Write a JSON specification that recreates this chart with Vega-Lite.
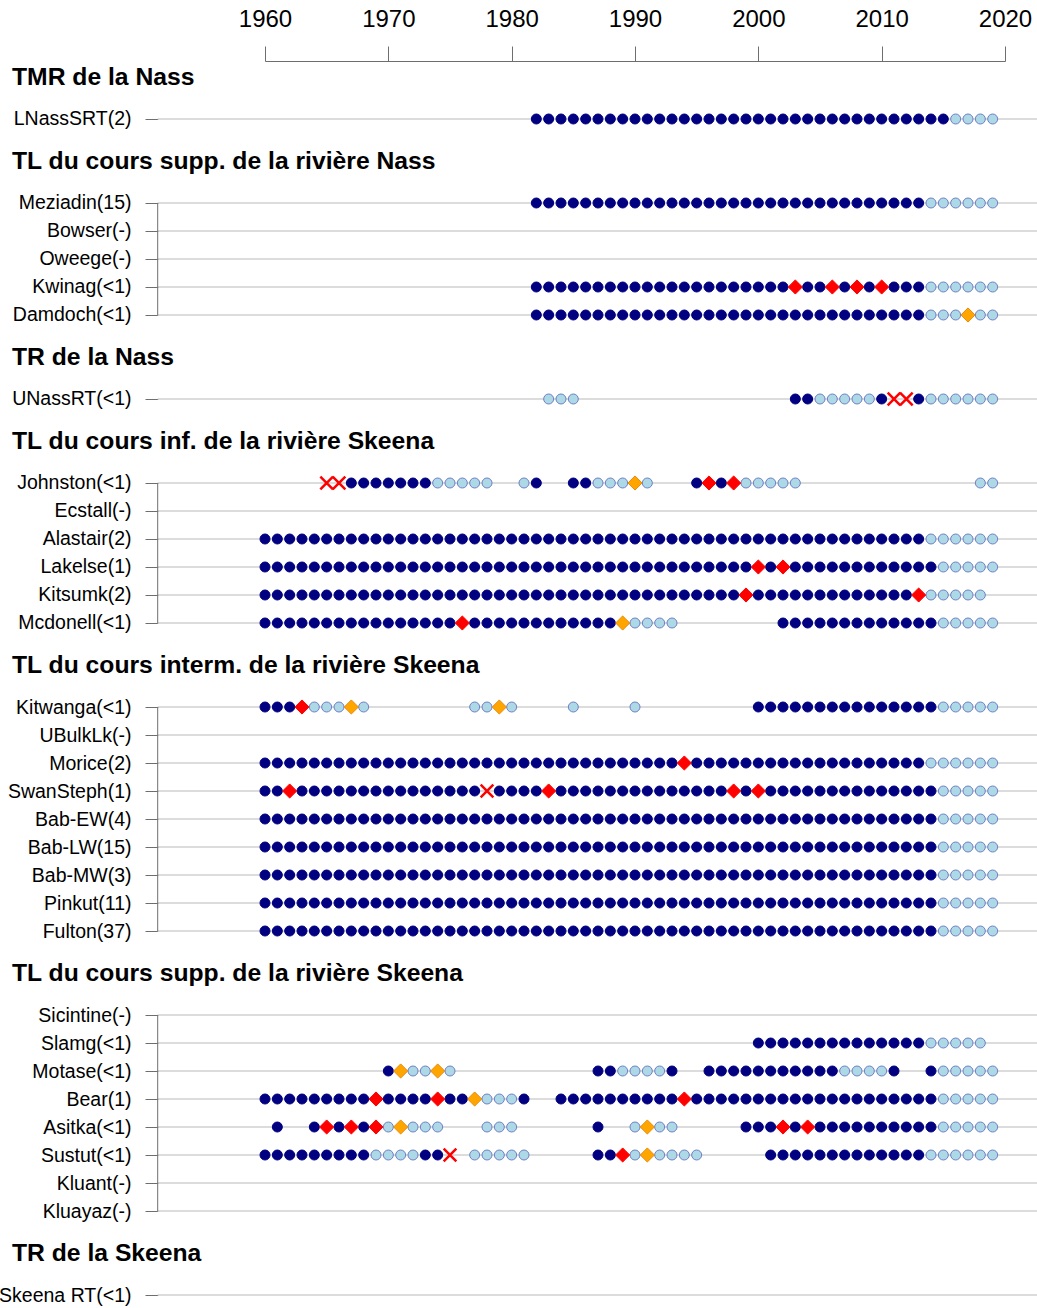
{
"$schema":"https://vega.github.io/schema/vega-lite/v6.json",
"width":740,"height":1236,
"autosize":"none",
"padding":{"left":265,"top":61,"right":32,"bottom":11},
"config":{"view":{"stroke":null},"font":"Liberation Sans"},
"datasets":{
"rows":[{"r":"LNassSRT(2)"},{"r":"Meziadin(15)"},{"r":"Bowser(-)"},{"r":"Oweege(-)"},{"r":"Kwinag(<1)"},{"r":"Damdoch(<1)"},{"r":"UNassRT(<1)"},{"r":"Johnston(<1)"},{"r":"Ecstall(-)"},{"r":"Alastair(2)"},{"r":"Lakelse(1)"},{"r":"Kitsumk(2)"},{"r":"Mcdonell(<1)"},{"r":"Kitwanga(<1)"},{"r":"UBulkLk(-)"},{"r":"Morice(2)"},{"r":"SwanSteph(1)"},{"r":"Bab-EW(4)"},{"r":"Bab-LW(15)"},{"r":"Bab-MW(3)"},{"r":"Pinkut(11)"},{"r":"Fulton(37)"},{"r":"Sicintine(-)"},{"r":"Slamg(<1)"},{"r":"Motase(<1)"},{"r":"Bear(1)"},{"r":"Asitka(<1)"},{"r":"Sustut(<1)"},{"r":"Kluant(-)"},{"r":"Kluayaz(-)"},{"r":"Skeena RT(<1)"}],
"groups":[{"r":"Meziadin(15)","r2":"Damdoch(<1)"},{"r":"Johnston(<1)","r2":"Mcdonell(<1)"},{"r":"Kitwanga(<1)","r2":"Fulton(37)"},{"r":"Sicintine(-)","r2":"Kluayaz(-)"}],
"heads":[{"r":"_a","t":"TMR de la Nass"},{"r":"_c","t":"TL du cours supp. de la rivière Nass"},{"r":"_e","t":"TR de la Nass"},{"r":"_g","t":"TL du cours inf. de la rivière Skeena"},{"r":"_i","t":"TL du cours interm. de la rivière Skeena"},{"r":"_k","t":"TL du cours supp. de la rivière Skeena"},{"r":"_m","t":"TR de la Skeena"}],
"pts":[
{"r":"LNassSRT(2)","y":1982,"s":"d"},{"r":"LNassSRT(2)","y":1983,"s":"d"},{"r":"LNassSRT(2)","y":1984,"s":"d"},{"r":"LNassSRT(2)","y":1985,"s":"d"},{"r":"LNassSRT(2)","y":1986,"s":"d"},{"r":"LNassSRT(2)","y":1987,"s":"d"},{"r":"LNassSRT(2)","y":1988,"s":"d"},{"r":"LNassSRT(2)","y":1989,"s":"d"},{"r":"LNassSRT(2)","y":1990,"s":"d"},{"r":"LNassSRT(2)","y":1991,"s":"d"},{"r":"LNassSRT(2)","y":1992,"s":"d"},{"r":"LNassSRT(2)","y":1993,"s":"d"},{"r":"LNassSRT(2)","y":1994,"s":"d"},{"r":"LNassSRT(2)","y":1995,"s":"d"},{"r":"LNassSRT(2)","y":1996,"s":"d"},{"r":"LNassSRT(2)","y":1997,"s":"d"},{"r":"LNassSRT(2)","y":1998,"s":"d"},{"r":"LNassSRT(2)","y":1999,"s":"d"},{"r":"LNassSRT(2)","y":2000,"s":"d"},{"r":"LNassSRT(2)","y":2001,"s":"d"},{"r":"LNassSRT(2)","y":2002,"s":"d"},{"r":"LNassSRT(2)","y":2003,"s":"d"},{"r":"LNassSRT(2)","y":2004,"s":"d"},{"r":"LNassSRT(2)","y":2005,"s":"d"},{"r":"LNassSRT(2)","y":2006,"s":"d"},{"r":"LNassSRT(2)","y":2007,"s":"d"},{"r":"LNassSRT(2)","y":2008,"s":"d"},{"r":"LNassSRT(2)","y":2009,"s":"d"},{"r":"LNassSRT(2)","y":2010,"s":"d"},{"r":"LNassSRT(2)","y":2011,"s":"d"},{"r":"LNassSRT(2)","y":2012,"s":"d"},{"r":"LNassSRT(2)","y":2013,"s":"d"},{"r":"LNassSRT(2)","y":2014,"s":"d"},{"r":"LNassSRT(2)","y":2015,"s":"d"},{"r":"LNassSRT(2)","y":2016,"s":"l"},{"r":"LNassSRT(2)","y":2017,"s":"l"},{"r":"LNassSRT(2)","y":2018,"s":"l"},{"r":"LNassSRT(2)","y":2019,"s":"l"},
{"r":"Meziadin(15)","y":1982,"s":"d"},{"r":"Meziadin(15)","y":1983,"s":"d"},{"r":"Meziadin(15)","y":1984,"s":"d"},{"r":"Meziadin(15)","y":1985,"s":"d"},{"r":"Meziadin(15)","y":1986,"s":"d"},{"r":"Meziadin(15)","y":1987,"s":"d"},{"r":"Meziadin(15)","y":1988,"s":"d"},{"r":"Meziadin(15)","y":1989,"s":"d"},{"r":"Meziadin(15)","y":1990,"s":"d"},{"r":"Meziadin(15)","y":1991,"s":"d"},{"r":"Meziadin(15)","y":1992,"s":"d"},{"r":"Meziadin(15)","y":1993,"s":"d"},{"r":"Meziadin(15)","y":1994,"s":"d"},{"r":"Meziadin(15)","y":1995,"s":"d"},{"r":"Meziadin(15)","y":1996,"s":"d"},{"r":"Meziadin(15)","y":1997,"s":"d"},{"r":"Meziadin(15)","y":1998,"s":"d"},{"r":"Meziadin(15)","y":1999,"s":"d"},{"r":"Meziadin(15)","y":2000,"s":"d"},{"r":"Meziadin(15)","y":2001,"s":"d"},{"r":"Meziadin(15)","y":2002,"s":"d"},{"r":"Meziadin(15)","y":2003,"s":"d"},{"r":"Meziadin(15)","y":2004,"s":"d"},{"r":"Meziadin(15)","y":2005,"s":"d"},{"r":"Meziadin(15)","y":2006,"s":"d"},{"r":"Meziadin(15)","y":2007,"s":"d"},{"r":"Meziadin(15)","y":2008,"s":"d"},{"r":"Meziadin(15)","y":2009,"s":"d"},{"r":"Meziadin(15)","y":2010,"s":"d"},{"r":"Meziadin(15)","y":2011,"s":"d"},{"r":"Meziadin(15)","y":2012,"s":"d"},{"r":"Meziadin(15)","y":2013,"s":"d"},{"r":"Meziadin(15)","y":2014,"s":"l"},{"r":"Meziadin(15)","y":2015,"s":"l"},{"r":"Meziadin(15)","y":2016,"s":"l"},{"r":"Meziadin(15)","y":2017,"s":"l"},{"r":"Meziadin(15)","y":2018,"s":"l"},{"r":"Meziadin(15)","y":2019,"s":"l"},
{"r":"Kwinag(<1)","y":1982,"s":"d"},{"r":"Kwinag(<1)","y":1983,"s":"d"},{"r":"Kwinag(<1)","y":1984,"s":"d"},{"r":"Kwinag(<1)","y":1985,"s":"d"},{"r":"Kwinag(<1)","y":1986,"s":"d"},{"r":"Kwinag(<1)","y":1987,"s":"d"},{"r":"Kwinag(<1)","y":1988,"s":"d"},{"r":"Kwinag(<1)","y":1989,"s":"d"},{"r":"Kwinag(<1)","y":1990,"s":"d"},{"r":"Kwinag(<1)","y":1991,"s":"d"},{"r":"Kwinag(<1)","y":1992,"s":"d"},{"r":"Kwinag(<1)","y":1993,"s":"d"},{"r":"Kwinag(<1)","y":1994,"s":"d"},{"r":"Kwinag(<1)","y":1995,"s":"d"},{"r":"Kwinag(<1)","y":1996,"s":"d"},{"r":"Kwinag(<1)","y":1997,"s":"d"},{"r":"Kwinag(<1)","y":1998,"s":"d"},{"r":"Kwinag(<1)","y":1999,"s":"d"},{"r":"Kwinag(<1)","y":2000,"s":"d"},{"r":"Kwinag(<1)","y":2001,"s":"d"},{"r":"Kwinag(<1)","y":2002,"s":"d"},{"r":"Kwinag(<1)","y":2003,"s":"r"},{"r":"Kwinag(<1)","y":2004,"s":"d"},{"r":"Kwinag(<1)","y":2005,"s":"d"},{"r":"Kwinag(<1)","y":2006,"s":"r"},{"r":"Kwinag(<1)","y":2007,"s":"d"},{"r":"Kwinag(<1)","y":2008,"s":"r"},{"r":"Kwinag(<1)","y":2009,"s":"d"},{"r":"Kwinag(<1)","y":2010,"s":"r"},{"r":"Kwinag(<1)","y":2011,"s":"d"},{"r":"Kwinag(<1)","y":2012,"s":"d"},{"r":"Kwinag(<1)","y":2013,"s":"d"},{"r":"Kwinag(<1)","y":2014,"s":"l"},{"r":"Kwinag(<1)","y":2015,"s":"l"},{"r":"Kwinag(<1)","y":2016,"s":"l"},{"r":"Kwinag(<1)","y":2017,"s":"l"},{"r":"Kwinag(<1)","y":2018,"s":"l"},{"r":"Kwinag(<1)","y":2019,"s":"l"},
{"r":"Damdoch(<1)","y":1982,"s":"d"},{"r":"Damdoch(<1)","y":1983,"s":"d"},{"r":"Damdoch(<1)","y":1984,"s":"d"},{"r":"Damdoch(<1)","y":1985,"s":"d"},{"r":"Damdoch(<1)","y":1986,"s":"d"},{"r":"Damdoch(<1)","y":1987,"s":"d"},{"r":"Damdoch(<1)","y":1988,"s":"d"},{"r":"Damdoch(<1)","y":1989,"s":"d"},{"r":"Damdoch(<1)","y":1990,"s":"d"},{"r":"Damdoch(<1)","y":1991,"s":"d"},{"r":"Damdoch(<1)","y":1992,"s":"d"},{"r":"Damdoch(<1)","y":1993,"s":"d"},{"r":"Damdoch(<1)","y":1994,"s":"d"},{"r":"Damdoch(<1)","y":1995,"s":"d"},{"r":"Damdoch(<1)","y":1996,"s":"d"},{"r":"Damdoch(<1)","y":1997,"s":"d"},{"r":"Damdoch(<1)","y":1998,"s":"d"},{"r":"Damdoch(<1)","y":1999,"s":"d"},{"r":"Damdoch(<1)","y":2000,"s":"d"},{"r":"Damdoch(<1)","y":2001,"s":"d"},{"r":"Damdoch(<1)","y":2002,"s":"d"},{"r":"Damdoch(<1)","y":2003,"s":"d"},{"r":"Damdoch(<1)","y":2004,"s":"d"},{"r":"Damdoch(<1)","y":2005,"s":"d"},{"r":"Damdoch(<1)","y":2006,"s":"d"},{"r":"Damdoch(<1)","y":2007,"s":"d"},{"r":"Damdoch(<1)","y":2008,"s":"d"},{"r":"Damdoch(<1)","y":2009,"s":"d"},{"r":"Damdoch(<1)","y":2010,"s":"d"},{"r":"Damdoch(<1)","y":2011,"s":"d"},{"r":"Damdoch(<1)","y":2012,"s":"d"},{"r":"Damdoch(<1)","y":2013,"s":"d"},{"r":"Damdoch(<1)","y":2014,"s":"l"},{"r":"Damdoch(<1)","y":2015,"s":"l"},{"r":"Damdoch(<1)","y":2016,"s":"l"},{"r":"Damdoch(<1)","y":2017,"s":"o"},{"r":"Damdoch(<1)","y":2018,"s":"l"},{"r":"Damdoch(<1)","y":2019,"s":"l"},
{"r":"UNassRT(<1)","y":1983,"s":"l"},{"r":"UNassRT(<1)","y":1984,"s":"l"},{"r":"UNassRT(<1)","y":1985,"s":"l"},{"r":"UNassRT(<1)","y":2003,"s":"d"},{"r":"UNassRT(<1)","y":2004,"s":"d"},{"r":"UNassRT(<1)","y":2005,"s":"l"},{"r":"UNassRT(<1)","y":2006,"s":"l"},{"r":"UNassRT(<1)","y":2007,"s":"l"},{"r":"UNassRT(<1)","y":2008,"s":"l"},{"r":"UNassRT(<1)","y":2009,"s":"l"},{"r":"UNassRT(<1)","y":2010,"s":"d"},{"r":"UNassRT(<1)","y":2011,"s":"x"},{"r":"UNassRT(<1)","y":2012,"s":"x"},{"r":"UNassRT(<1)","y":2013,"s":"d"},{"r":"UNassRT(<1)","y":2014,"s":"l"},{"r":"UNassRT(<1)","y":2015,"s":"l"},{"r":"UNassRT(<1)","y":2016,"s":"l"},{"r":"UNassRT(<1)","y":2017,"s":"l"},{"r":"UNassRT(<1)","y":2018,"s":"l"},{"r":"UNassRT(<1)","y":2019,"s":"l"},
{"r":"Johnston(<1)","y":1965,"s":"x"},{"r":"Johnston(<1)","y":1966,"s":"x"},{"r":"Johnston(<1)","y":1967,"s":"d"},{"r":"Johnston(<1)","y":1968,"s":"d"},{"r":"Johnston(<1)","y":1969,"s":"d"},{"r":"Johnston(<1)","y":1970,"s":"d"},{"r":"Johnston(<1)","y":1971,"s":"d"},{"r":"Johnston(<1)","y":1972,"s":"d"},{"r":"Johnston(<1)","y":1973,"s":"d"},{"r":"Johnston(<1)","y":1974,"s":"l"},{"r":"Johnston(<1)","y":1975,"s":"l"},{"r":"Johnston(<1)","y":1976,"s":"l"},{"r":"Johnston(<1)","y":1977,"s":"l"},{"r":"Johnston(<1)","y":1978,"s":"l"},{"r":"Johnston(<1)","y":1981,"s":"l"},{"r":"Johnston(<1)","y":1982,"s":"d"},{"r":"Johnston(<1)","y":1985,"s":"d"},{"r":"Johnston(<1)","y":1986,"s":"d"},{"r":"Johnston(<1)","y":1987,"s":"l"},{"r":"Johnston(<1)","y":1988,"s":"l"},{"r":"Johnston(<1)","y":1989,"s":"l"},{"r":"Johnston(<1)","y":1990,"s":"o"},{"r":"Johnston(<1)","y":1991,"s":"l"},{"r":"Johnston(<1)","y":1995,"s":"d"},{"r":"Johnston(<1)","y":1996,"s":"r"},{"r":"Johnston(<1)","y":1997,"s":"d"},{"r":"Johnston(<1)","y":1998,"s":"r"},{"r":"Johnston(<1)","y":1999,"s":"l"},{"r":"Johnston(<1)","y":2000,"s":"l"},{"r":"Johnston(<1)","y":2001,"s":"l"},{"r":"Johnston(<1)","y":2002,"s":"l"},{"r":"Johnston(<1)","y":2003,"s":"l"},{"r":"Johnston(<1)","y":2018,"s":"l"},{"r":"Johnston(<1)","y":2019,"s":"l"},
{"r":"Alastair(2)","y":1960,"s":"d"},{"r":"Alastair(2)","y":1961,"s":"d"},{"r":"Alastair(2)","y":1962,"s":"d"},{"r":"Alastair(2)","y":1963,"s":"d"},{"r":"Alastair(2)","y":1964,"s":"d"},{"r":"Alastair(2)","y":1965,"s":"d"},{"r":"Alastair(2)","y":1966,"s":"d"},{"r":"Alastair(2)","y":1967,"s":"d"},{"r":"Alastair(2)","y":1968,"s":"d"},{"r":"Alastair(2)","y":1969,"s":"d"},{"r":"Alastair(2)","y":1970,"s":"d"},{"r":"Alastair(2)","y":1971,"s":"d"},{"r":"Alastair(2)","y":1972,"s":"d"},{"r":"Alastair(2)","y":1973,"s":"d"},{"r":"Alastair(2)","y":1974,"s":"d"},{"r":"Alastair(2)","y":1975,"s":"d"},{"r":"Alastair(2)","y":1976,"s":"d"},{"r":"Alastair(2)","y":1977,"s":"d"},{"r":"Alastair(2)","y":1978,"s":"d"},{"r":"Alastair(2)","y":1979,"s":"d"},{"r":"Alastair(2)","y":1980,"s":"d"},{"r":"Alastair(2)","y":1981,"s":"d"},{"r":"Alastair(2)","y":1982,"s":"d"},{"r":"Alastair(2)","y":1983,"s":"d"},{"r":"Alastair(2)","y":1984,"s":"d"},{"r":"Alastair(2)","y":1985,"s":"d"},{"r":"Alastair(2)","y":1986,"s":"d"},{"r":"Alastair(2)","y":1987,"s":"d"},{"r":"Alastair(2)","y":1988,"s":"d"},{"r":"Alastair(2)","y":1989,"s":"d"},{"r":"Alastair(2)","y":1990,"s":"d"},{"r":"Alastair(2)","y":1991,"s":"d"},{"r":"Alastair(2)","y":1992,"s":"d"},{"r":"Alastair(2)","y":1993,"s":"d"},{"r":"Alastair(2)","y":1994,"s":"d"},{"r":"Alastair(2)","y":1995,"s":"d"},{"r":"Alastair(2)","y":1996,"s":"d"},{"r":"Alastair(2)","y":1997,"s":"d"},{"r":"Alastair(2)","y":1998,"s":"d"},{"r":"Alastair(2)","y":1999,"s":"d"},{"r":"Alastair(2)","y":2000,"s":"d"},{"r":"Alastair(2)","y":2001,"s":"d"},{"r":"Alastair(2)","y":2002,"s":"d"},{"r":"Alastair(2)","y":2003,"s":"d"},{"r":"Alastair(2)","y":2004,"s":"d"},{"r":"Alastair(2)","y":2005,"s":"d"},{"r":"Alastair(2)","y":2006,"s":"d"},{"r":"Alastair(2)","y":2007,"s":"d"},{"r":"Alastair(2)","y":2008,"s":"d"},{"r":"Alastair(2)","y":2009,"s":"d"},{"r":"Alastair(2)","y":2010,"s":"d"},{"r":"Alastair(2)","y":2011,"s":"d"},{"r":"Alastair(2)","y":2012,"s":"d"},{"r":"Alastair(2)","y":2013,"s":"d"},{"r":"Alastair(2)","y":2014,"s":"l"},{"r":"Alastair(2)","y":2015,"s":"l"},{"r":"Alastair(2)","y":2016,"s":"l"},{"r":"Alastair(2)","y":2017,"s":"l"},{"r":"Alastair(2)","y":2018,"s":"l"},{"r":"Alastair(2)","y":2019,"s":"l"},
{"r":"Lakelse(1)","y":1960,"s":"d"},{"r":"Lakelse(1)","y":1961,"s":"d"},{"r":"Lakelse(1)","y":1962,"s":"d"},{"r":"Lakelse(1)","y":1963,"s":"d"},{"r":"Lakelse(1)","y":1964,"s":"d"},{"r":"Lakelse(1)","y":1965,"s":"d"},{"r":"Lakelse(1)","y":1966,"s":"d"},{"r":"Lakelse(1)","y":1967,"s":"d"},{"r":"Lakelse(1)","y":1968,"s":"d"},{"r":"Lakelse(1)","y":1969,"s":"d"},{"r":"Lakelse(1)","y":1970,"s":"d"},{"r":"Lakelse(1)","y":1971,"s":"d"},{"r":"Lakelse(1)","y":1972,"s":"d"},{"r":"Lakelse(1)","y":1973,"s":"d"},{"r":"Lakelse(1)","y":1974,"s":"d"},{"r":"Lakelse(1)","y":1975,"s":"d"},{"r":"Lakelse(1)","y":1976,"s":"d"},{"r":"Lakelse(1)","y":1977,"s":"d"},{"r":"Lakelse(1)","y":1978,"s":"d"},{"r":"Lakelse(1)","y":1979,"s":"d"},{"r":"Lakelse(1)","y":1980,"s":"d"},{"r":"Lakelse(1)","y":1981,"s":"d"},{"r":"Lakelse(1)","y":1982,"s":"d"},{"r":"Lakelse(1)","y":1983,"s":"d"},{"r":"Lakelse(1)","y":1984,"s":"d"},{"r":"Lakelse(1)","y":1985,"s":"d"},{"r":"Lakelse(1)","y":1986,"s":"d"},{"r":"Lakelse(1)","y":1987,"s":"d"},{"r":"Lakelse(1)","y":1988,"s":"d"},{"r":"Lakelse(1)","y":1989,"s":"d"},{"r":"Lakelse(1)","y":1990,"s":"d"},{"r":"Lakelse(1)","y":1991,"s":"d"},{"r":"Lakelse(1)","y":1992,"s":"d"},{"r":"Lakelse(1)","y":1993,"s":"d"},{"r":"Lakelse(1)","y":1994,"s":"d"},{"r":"Lakelse(1)","y":1995,"s":"d"},{"r":"Lakelse(1)","y":1996,"s":"d"},{"r":"Lakelse(1)","y":1997,"s":"d"},{"r":"Lakelse(1)","y":1998,"s":"d"},{"r":"Lakelse(1)","y":1999,"s":"d"},{"r":"Lakelse(1)","y":2000,"s":"r"},{"r":"Lakelse(1)","y":2001,"s":"d"},{"r":"Lakelse(1)","y":2002,"s":"r"},{"r":"Lakelse(1)","y":2003,"s":"d"},{"r":"Lakelse(1)","y":2004,"s":"d"},{"r":"Lakelse(1)","y":2005,"s":"d"},{"r":"Lakelse(1)","y":2006,"s":"d"},{"r":"Lakelse(1)","y":2007,"s":"d"},{"r":"Lakelse(1)","y":2008,"s":"d"},{"r":"Lakelse(1)","y":2009,"s":"d"},{"r":"Lakelse(1)","y":2010,"s":"d"},{"r":"Lakelse(1)","y":2011,"s":"d"},{"r":"Lakelse(1)","y":2012,"s":"d"},{"r":"Lakelse(1)","y":2013,"s":"d"},{"r":"Lakelse(1)","y":2014,"s":"d"},{"r":"Lakelse(1)","y":2015,"s":"l"},{"r":"Lakelse(1)","y":2016,"s":"l"},{"r":"Lakelse(1)","y":2017,"s":"l"},{"r":"Lakelse(1)","y":2018,"s":"l"},{"r":"Lakelse(1)","y":2019,"s":"l"},
{"r":"Kitsumk(2)","y":1960,"s":"d"},{"r":"Kitsumk(2)","y":1961,"s":"d"},{"r":"Kitsumk(2)","y":1962,"s":"d"},{"r":"Kitsumk(2)","y":1963,"s":"d"},{"r":"Kitsumk(2)","y":1964,"s":"d"},{"r":"Kitsumk(2)","y":1965,"s":"d"},{"r":"Kitsumk(2)","y":1966,"s":"d"},{"r":"Kitsumk(2)","y":1967,"s":"d"},{"r":"Kitsumk(2)","y":1968,"s":"d"},{"r":"Kitsumk(2)","y":1969,"s":"d"},{"r":"Kitsumk(2)","y":1970,"s":"d"},{"r":"Kitsumk(2)","y":1971,"s":"d"},{"r":"Kitsumk(2)","y":1972,"s":"d"},{"r":"Kitsumk(2)","y":1973,"s":"d"},{"r":"Kitsumk(2)","y":1974,"s":"d"},{"r":"Kitsumk(2)","y":1975,"s":"d"},{"r":"Kitsumk(2)","y":1976,"s":"d"},{"r":"Kitsumk(2)","y":1977,"s":"d"},{"r":"Kitsumk(2)","y":1978,"s":"d"},{"r":"Kitsumk(2)","y":1979,"s":"d"},{"r":"Kitsumk(2)","y":1980,"s":"d"},{"r":"Kitsumk(2)","y":1981,"s":"d"},{"r":"Kitsumk(2)","y":1982,"s":"d"},{"r":"Kitsumk(2)","y":1983,"s":"d"},{"r":"Kitsumk(2)","y":1984,"s":"d"},{"r":"Kitsumk(2)","y":1985,"s":"d"},{"r":"Kitsumk(2)","y":1986,"s":"d"},{"r":"Kitsumk(2)","y":1987,"s":"d"},{"r":"Kitsumk(2)","y":1988,"s":"d"},{"r":"Kitsumk(2)","y":1989,"s":"d"},{"r":"Kitsumk(2)","y":1990,"s":"d"},{"r":"Kitsumk(2)","y":1991,"s":"d"},{"r":"Kitsumk(2)","y":1992,"s":"d"},{"r":"Kitsumk(2)","y":1993,"s":"d"},{"r":"Kitsumk(2)","y":1994,"s":"d"},{"r":"Kitsumk(2)","y":1995,"s":"d"},{"r":"Kitsumk(2)","y":1996,"s":"d"},{"r":"Kitsumk(2)","y":1997,"s":"d"},{"r":"Kitsumk(2)","y":1998,"s":"d"},{"r":"Kitsumk(2)","y":1999,"s":"r"},{"r":"Kitsumk(2)","y":2000,"s":"d"},{"r":"Kitsumk(2)","y":2001,"s":"d"},{"r":"Kitsumk(2)","y":2002,"s":"d"},{"r":"Kitsumk(2)","y":2003,"s":"d"},{"r":"Kitsumk(2)","y":2004,"s":"d"},{"r":"Kitsumk(2)","y":2005,"s":"d"},{"r":"Kitsumk(2)","y":2006,"s":"d"},{"r":"Kitsumk(2)","y":2007,"s":"d"},{"r":"Kitsumk(2)","y":2008,"s":"d"},{"r":"Kitsumk(2)","y":2009,"s":"d"},{"r":"Kitsumk(2)","y":2010,"s":"d"},{"r":"Kitsumk(2)","y":2011,"s":"d"},{"r":"Kitsumk(2)","y":2012,"s":"d"},{"r":"Kitsumk(2)","y":2013,"s":"r"},{"r":"Kitsumk(2)","y":2014,"s":"l"},{"r":"Kitsumk(2)","y":2015,"s":"l"},{"r":"Kitsumk(2)","y":2016,"s":"l"},{"r":"Kitsumk(2)","y":2017,"s":"l"},{"r":"Kitsumk(2)","y":2018,"s":"l"},
{"r":"Mcdonell(<1)","y":1960,"s":"d"},{"r":"Mcdonell(<1)","y":1961,"s":"d"},{"r":"Mcdonell(<1)","y":1962,"s":"d"},{"r":"Mcdonell(<1)","y":1963,"s":"d"},{"r":"Mcdonell(<1)","y":1964,"s":"d"},{"r":"Mcdonell(<1)","y":1965,"s":"d"},{"r":"Mcdonell(<1)","y":1966,"s":"d"},{"r":"Mcdonell(<1)","y":1967,"s":"d"},{"r":"Mcdonell(<1)","y":1968,"s":"d"},{"r":"Mcdonell(<1)","y":1969,"s":"d"},{"r":"Mcdonell(<1)","y":1970,"s":"d"},{"r":"Mcdonell(<1)","y":1971,"s":"d"},{"r":"Mcdonell(<1)","y":1972,"s":"d"},{"r":"Mcdonell(<1)","y":1973,"s":"d"},{"r":"Mcdonell(<1)","y":1974,"s":"d"},{"r":"Mcdonell(<1)","y":1975,"s":"d"},{"r":"Mcdonell(<1)","y":1976,"s":"r"},{"r":"Mcdonell(<1)","y":1977,"s":"d"},{"r":"Mcdonell(<1)","y":1978,"s":"d"},{"r":"Mcdonell(<1)","y":1979,"s":"d"},{"r":"Mcdonell(<1)","y":1980,"s":"d"},{"r":"Mcdonell(<1)","y":1981,"s":"d"},{"r":"Mcdonell(<1)","y":1982,"s":"d"},{"r":"Mcdonell(<1)","y":1983,"s":"d"},{"r":"Mcdonell(<1)","y":1984,"s":"d"},{"r":"Mcdonell(<1)","y":1985,"s":"d"},{"r":"Mcdonell(<1)","y":1986,"s":"d"},{"r":"Mcdonell(<1)","y":1987,"s":"d"},{"r":"Mcdonell(<1)","y":1988,"s":"d"},{"r":"Mcdonell(<1)","y":1989,"s":"o"},{"r":"Mcdonell(<1)","y":1990,"s":"l"},{"r":"Mcdonell(<1)","y":1991,"s":"l"},{"r":"Mcdonell(<1)","y":1992,"s":"l"},{"r":"Mcdonell(<1)","y":1993,"s":"l"},{"r":"Mcdonell(<1)","y":2002,"s":"d"},{"r":"Mcdonell(<1)","y":2003,"s":"d"},{"r":"Mcdonell(<1)","y":2004,"s":"d"},{"r":"Mcdonell(<1)","y":2005,"s":"d"},{"r":"Mcdonell(<1)","y":2006,"s":"d"},{"r":"Mcdonell(<1)","y":2007,"s":"d"},{"r":"Mcdonell(<1)","y":2008,"s":"d"},{"r":"Mcdonell(<1)","y":2009,"s":"d"},{"r":"Mcdonell(<1)","y":2010,"s":"d"},{"r":"Mcdonell(<1)","y":2011,"s":"d"},{"r":"Mcdonell(<1)","y":2012,"s":"d"},{"r":"Mcdonell(<1)","y":2013,"s":"d"},{"r":"Mcdonell(<1)","y":2014,"s":"d"},{"r":"Mcdonell(<1)","y":2015,"s":"l"},{"r":"Mcdonell(<1)","y":2016,"s":"l"},{"r":"Mcdonell(<1)","y":2017,"s":"l"},{"r":"Mcdonell(<1)","y":2018,"s":"l"},{"r":"Mcdonell(<1)","y":2019,"s":"l"},
{"r":"Kitwanga(<1)","y":1960,"s":"d"},{"r":"Kitwanga(<1)","y":1961,"s":"d"},{"r":"Kitwanga(<1)","y":1962,"s":"d"},{"r":"Kitwanga(<1)","y":1963,"s":"r"},{"r":"Kitwanga(<1)","y":1964,"s":"l"},{"r":"Kitwanga(<1)","y":1965,"s":"l"},{"r":"Kitwanga(<1)","y":1966,"s":"l"},{"r":"Kitwanga(<1)","y":1967,"s":"o"},{"r":"Kitwanga(<1)","y":1968,"s":"l"},{"r":"Kitwanga(<1)","y":1977,"s":"l"},{"r":"Kitwanga(<1)","y":1978,"s":"l"},{"r":"Kitwanga(<1)","y":1979,"s":"o"},{"r":"Kitwanga(<1)","y":1980,"s":"l"},{"r":"Kitwanga(<1)","y":1985,"s":"l"},{"r":"Kitwanga(<1)","y":1990,"s":"l"},{"r":"Kitwanga(<1)","y":2000,"s":"d"},{"r":"Kitwanga(<1)","y":2001,"s":"d"},{"r":"Kitwanga(<1)","y":2002,"s":"d"},{"r":"Kitwanga(<1)","y":2003,"s":"d"},{"r":"Kitwanga(<1)","y":2004,"s":"d"},{"r":"Kitwanga(<1)","y":2005,"s":"d"},{"r":"Kitwanga(<1)","y":2006,"s":"d"},{"r":"Kitwanga(<1)","y":2007,"s":"d"},{"r":"Kitwanga(<1)","y":2008,"s":"d"},{"r":"Kitwanga(<1)","y":2009,"s":"d"},{"r":"Kitwanga(<1)","y":2010,"s":"d"},{"r":"Kitwanga(<1)","y":2011,"s":"d"},{"r":"Kitwanga(<1)","y":2012,"s":"d"},{"r":"Kitwanga(<1)","y":2013,"s":"d"},{"r":"Kitwanga(<1)","y":2014,"s":"d"},{"r":"Kitwanga(<1)","y":2015,"s":"l"},{"r":"Kitwanga(<1)","y":2016,"s":"l"},{"r":"Kitwanga(<1)","y":2017,"s":"l"},{"r":"Kitwanga(<1)","y":2018,"s":"l"},{"r":"Kitwanga(<1)","y":2019,"s":"l"},
{"r":"Morice(2)","y":1960,"s":"d"},{"r":"Morice(2)","y":1961,"s":"d"},{"r":"Morice(2)","y":1962,"s":"d"},{"r":"Morice(2)","y":1963,"s":"d"},{"r":"Morice(2)","y":1964,"s":"d"},{"r":"Morice(2)","y":1965,"s":"d"},{"r":"Morice(2)","y":1966,"s":"d"},{"r":"Morice(2)","y":1967,"s":"d"},{"r":"Morice(2)","y":1968,"s":"d"},{"r":"Morice(2)","y":1969,"s":"d"},{"r":"Morice(2)","y":1970,"s":"d"},{"r":"Morice(2)","y":1971,"s":"d"},{"r":"Morice(2)","y":1972,"s":"d"},{"r":"Morice(2)","y":1973,"s":"d"},{"r":"Morice(2)","y":1974,"s":"d"},{"r":"Morice(2)","y":1975,"s":"d"},{"r":"Morice(2)","y":1976,"s":"d"},{"r":"Morice(2)","y":1977,"s":"d"},{"r":"Morice(2)","y":1978,"s":"d"},{"r":"Morice(2)","y":1979,"s":"d"},{"r":"Morice(2)","y":1980,"s":"d"},{"r":"Morice(2)","y":1981,"s":"d"},{"r":"Morice(2)","y":1982,"s":"d"},{"r":"Morice(2)","y":1983,"s":"d"},{"r":"Morice(2)","y":1984,"s":"d"},{"r":"Morice(2)","y":1985,"s":"d"},{"r":"Morice(2)","y":1986,"s":"d"},{"r":"Morice(2)","y":1987,"s":"d"},{"r":"Morice(2)","y":1988,"s":"d"},{"r":"Morice(2)","y":1989,"s":"d"},{"r":"Morice(2)","y":1990,"s":"d"},{"r":"Morice(2)","y":1991,"s":"d"},{"r":"Morice(2)","y":1992,"s":"d"},{"r":"Morice(2)","y":1993,"s":"d"},{"r":"Morice(2)","y":1994,"s":"r"},{"r":"Morice(2)","y":1995,"s":"d"},{"r":"Morice(2)","y":1996,"s":"d"},{"r":"Morice(2)","y":1997,"s":"d"},{"r":"Morice(2)","y":1998,"s":"d"},{"r":"Morice(2)","y":1999,"s":"d"},{"r":"Morice(2)","y":2000,"s":"d"},{"r":"Morice(2)","y":2001,"s":"d"},{"r":"Morice(2)","y":2002,"s":"d"},{"r":"Morice(2)","y":2003,"s":"d"},{"r":"Morice(2)","y":2004,"s":"d"},{"r":"Morice(2)","y":2005,"s":"d"},{"r":"Morice(2)","y":2006,"s":"d"},{"r":"Morice(2)","y":2007,"s":"d"},{"r":"Morice(2)","y":2008,"s":"d"},{"r":"Morice(2)","y":2009,"s":"d"},{"r":"Morice(2)","y":2010,"s":"d"},{"r":"Morice(2)","y":2011,"s":"d"},{"r":"Morice(2)","y":2012,"s":"d"},{"r":"Morice(2)","y":2013,"s":"d"},{"r":"Morice(2)","y":2014,"s":"l"},{"r":"Morice(2)","y":2015,"s":"l"},{"r":"Morice(2)","y":2016,"s":"l"},{"r":"Morice(2)","y":2017,"s":"l"},{"r":"Morice(2)","y":2018,"s":"l"},{"r":"Morice(2)","y":2019,"s":"l"},
{"r":"SwanSteph(1)","y":1960,"s":"d"},{"r":"SwanSteph(1)","y":1961,"s":"d"},{"r":"SwanSteph(1)","y":1962,"s":"r"},{"r":"SwanSteph(1)","y":1963,"s":"d"},{"r":"SwanSteph(1)","y":1964,"s":"d"},{"r":"SwanSteph(1)","y":1965,"s":"d"},{"r":"SwanSteph(1)","y":1966,"s":"d"},{"r":"SwanSteph(1)","y":1967,"s":"d"},{"r":"SwanSteph(1)","y":1968,"s":"d"},{"r":"SwanSteph(1)","y":1969,"s":"d"},{"r":"SwanSteph(1)","y":1970,"s":"d"},{"r":"SwanSteph(1)","y":1971,"s":"d"},{"r":"SwanSteph(1)","y":1972,"s":"d"},{"r":"SwanSteph(1)","y":1973,"s":"d"},{"r":"SwanSteph(1)","y":1974,"s":"d"},{"r":"SwanSteph(1)","y":1975,"s":"d"},{"r":"SwanSteph(1)","y":1976,"s":"d"},{"r":"SwanSteph(1)","y":1977,"s":"d"},{"r":"SwanSteph(1)","y":1978,"s":"x"},{"r":"SwanSteph(1)","y":1979,"s":"d"},{"r":"SwanSteph(1)","y":1980,"s":"d"},{"r":"SwanSteph(1)","y":1981,"s":"d"},{"r":"SwanSteph(1)","y":1982,"s":"d"},{"r":"SwanSteph(1)","y":1983,"s":"r"},{"r":"SwanSteph(1)","y":1984,"s":"d"},{"r":"SwanSteph(1)","y":1985,"s":"d"},{"r":"SwanSteph(1)","y":1986,"s":"d"},{"r":"SwanSteph(1)","y":1987,"s":"d"},{"r":"SwanSteph(1)","y":1988,"s":"d"},{"r":"SwanSteph(1)","y":1989,"s":"d"},{"r":"SwanSteph(1)","y":1990,"s":"d"},{"r":"SwanSteph(1)","y":1991,"s":"d"},{"r":"SwanSteph(1)","y":1992,"s":"d"},{"r":"SwanSteph(1)","y":1993,"s":"d"},{"r":"SwanSteph(1)","y":1994,"s":"d"},{"r":"SwanSteph(1)","y":1995,"s":"d"},{"r":"SwanSteph(1)","y":1996,"s":"d"},{"r":"SwanSteph(1)","y":1997,"s":"d"},{"r":"SwanSteph(1)","y":1998,"s":"r"},{"r":"SwanSteph(1)","y":1999,"s":"d"},{"r":"SwanSteph(1)","y":2000,"s":"r"},{"r":"SwanSteph(1)","y":2001,"s":"d"},{"r":"SwanSteph(1)","y":2002,"s":"d"},{"r":"SwanSteph(1)","y":2003,"s":"d"},{"r":"SwanSteph(1)","y":2004,"s":"d"},{"r":"SwanSteph(1)","y":2005,"s":"d"},{"r":"SwanSteph(1)","y":2006,"s":"d"},{"r":"SwanSteph(1)","y":2007,"s":"d"},{"r":"SwanSteph(1)","y":2008,"s":"d"},{"r":"SwanSteph(1)","y":2009,"s":"d"},{"r":"SwanSteph(1)","y":2010,"s":"d"},{"r":"SwanSteph(1)","y":2011,"s":"d"},{"r":"SwanSteph(1)","y":2012,"s":"d"},{"r":"SwanSteph(1)","y":2013,"s":"d"},{"r":"SwanSteph(1)","y":2014,"s":"d"},{"r":"SwanSteph(1)","y":2015,"s":"l"},{"r":"SwanSteph(1)","y":2016,"s":"l"},{"r":"SwanSteph(1)","y":2017,"s":"l"},{"r":"SwanSteph(1)","y":2018,"s":"l"},{"r":"SwanSteph(1)","y":2019,"s":"l"},
{"r":"Bab-EW(4)","y":1960,"s":"d"},{"r":"Bab-EW(4)","y":1961,"s":"d"},{"r":"Bab-EW(4)","y":1962,"s":"d"},{"r":"Bab-EW(4)","y":1963,"s":"d"},{"r":"Bab-EW(4)","y":1964,"s":"d"},{"r":"Bab-EW(4)","y":1965,"s":"d"},{"r":"Bab-EW(4)","y":1966,"s":"d"},{"r":"Bab-EW(4)","y":1967,"s":"d"},{"r":"Bab-EW(4)","y":1968,"s":"d"},{"r":"Bab-EW(4)","y":1969,"s":"d"},{"r":"Bab-EW(4)","y":1970,"s":"d"},{"r":"Bab-EW(4)","y":1971,"s":"d"},{"r":"Bab-EW(4)","y":1972,"s":"d"},{"r":"Bab-EW(4)","y":1973,"s":"d"},{"r":"Bab-EW(4)","y":1974,"s":"d"},{"r":"Bab-EW(4)","y":1975,"s":"d"},{"r":"Bab-EW(4)","y":1976,"s":"d"},{"r":"Bab-EW(4)","y":1977,"s":"d"},{"r":"Bab-EW(4)","y":1978,"s":"d"},{"r":"Bab-EW(4)","y":1979,"s":"d"},{"r":"Bab-EW(4)","y":1980,"s":"d"},{"r":"Bab-EW(4)","y":1981,"s":"d"},{"r":"Bab-EW(4)","y":1982,"s":"d"},{"r":"Bab-EW(4)","y":1983,"s":"d"},{"r":"Bab-EW(4)","y":1984,"s":"d"},{"r":"Bab-EW(4)","y":1985,"s":"d"},{"r":"Bab-EW(4)","y":1986,"s":"d"},{"r":"Bab-EW(4)","y":1987,"s":"d"},{"r":"Bab-EW(4)","y":1988,"s":"d"},{"r":"Bab-EW(4)","y":1989,"s":"d"},{"r":"Bab-EW(4)","y":1990,"s":"d"},{"r":"Bab-EW(4)","y":1991,"s":"d"},{"r":"Bab-EW(4)","y":1992,"s":"d"},{"r":"Bab-EW(4)","y":1993,"s":"d"},{"r":"Bab-EW(4)","y":1994,"s":"d"},{"r":"Bab-EW(4)","y":1995,"s":"d"},{"r":"Bab-EW(4)","y":1996,"s":"d"},{"r":"Bab-EW(4)","y":1997,"s":"d"},{"r":"Bab-EW(4)","y":1998,"s":"d"},{"r":"Bab-EW(4)","y":1999,"s":"d"},{"r":"Bab-EW(4)","y":2000,"s":"d"},{"r":"Bab-EW(4)","y":2001,"s":"d"},{"r":"Bab-EW(4)","y":2002,"s":"d"},{"r":"Bab-EW(4)","y":2003,"s":"d"},{"r":"Bab-EW(4)","y":2004,"s":"d"},{"r":"Bab-EW(4)","y":2005,"s":"d"},{"r":"Bab-EW(4)","y":2006,"s":"d"},{"r":"Bab-EW(4)","y":2007,"s":"d"},{"r":"Bab-EW(4)","y":2008,"s":"d"},{"r":"Bab-EW(4)","y":2009,"s":"d"},{"r":"Bab-EW(4)","y":2010,"s":"d"},{"r":"Bab-EW(4)","y":2011,"s":"d"},{"r":"Bab-EW(4)","y":2012,"s":"d"},{"r":"Bab-EW(4)","y":2013,"s":"d"},{"r":"Bab-EW(4)","y":2014,"s":"d"},{"r":"Bab-EW(4)","y":2015,"s":"l"},{"r":"Bab-EW(4)","y":2016,"s":"l"},{"r":"Bab-EW(4)","y":2017,"s":"l"},{"r":"Bab-EW(4)","y":2018,"s":"l"},{"r":"Bab-EW(4)","y":2019,"s":"l"},
{"r":"Bab-LW(15)","y":1960,"s":"d"},{"r":"Bab-LW(15)","y":1961,"s":"d"},{"r":"Bab-LW(15)","y":1962,"s":"d"},{"r":"Bab-LW(15)","y":1963,"s":"d"},{"r":"Bab-LW(15)","y":1964,"s":"d"},{"r":"Bab-LW(15)","y":1965,"s":"d"},{"r":"Bab-LW(15)","y":1966,"s":"d"},{"r":"Bab-LW(15)","y":1967,"s":"d"},{"r":"Bab-LW(15)","y":1968,"s":"d"},{"r":"Bab-LW(15)","y":1969,"s":"d"},{"r":"Bab-LW(15)","y":1970,"s":"d"},{"r":"Bab-LW(15)","y":1971,"s":"d"},{"r":"Bab-LW(15)","y":1972,"s":"d"},{"r":"Bab-LW(15)","y":1973,"s":"d"},{"r":"Bab-LW(15)","y":1974,"s":"d"},{"r":"Bab-LW(15)","y":1975,"s":"d"},{"r":"Bab-LW(15)","y":1976,"s":"d"},{"r":"Bab-LW(15)","y":1977,"s":"d"},{"r":"Bab-LW(15)","y":1978,"s":"d"},{"r":"Bab-LW(15)","y":1979,"s":"d"},{"r":"Bab-LW(15)","y":1980,"s":"d"},{"r":"Bab-LW(15)","y":1981,"s":"d"},{"r":"Bab-LW(15)","y":1982,"s":"d"},{"r":"Bab-LW(15)","y":1983,"s":"d"},{"r":"Bab-LW(15)","y":1984,"s":"d"},{"r":"Bab-LW(15)","y":1985,"s":"d"},{"r":"Bab-LW(15)","y":1986,"s":"d"},{"r":"Bab-LW(15)","y":1987,"s":"d"},{"r":"Bab-LW(15)","y":1988,"s":"d"},{"r":"Bab-LW(15)","y":1989,"s":"d"},{"r":"Bab-LW(15)","y":1990,"s":"d"},{"r":"Bab-LW(15)","y":1991,"s":"d"},{"r":"Bab-LW(15)","y":1992,"s":"d"},{"r":"Bab-LW(15)","y":1993,"s":"d"},{"r":"Bab-LW(15)","y":1994,"s":"d"},{"r":"Bab-LW(15)","y":1995,"s":"d"},{"r":"Bab-LW(15)","y":1996,"s":"d"},{"r":"Bab-LW(15)","y":1997,"s":"d"},{"r":"Bab-LW(15)","y":1998,"s":"d"},{"r":"Bab-LW(15)","y":1999,"s":"d"},{"r":"Bab-LW(15)","y":2000,"s":"d"},{"r":"Bab-LW(15)","y":2001,"s":"d"},{"r":"Bab-LW(15)","y":2002,"s":"d"},{"r":"Bab-LW(15)","y":2003,"s":"d"},{"r":"Bab-LW(15)","y":2004,"s":"d"},{"r":"Bab-LW(15)","y":2005,"s":"d"},{"r":"Bab-LW(15)","y":2006,"s":"d"},{"r":"Bab-LW(15)","y":2007,"s":"d"},{"r":"Bab-LW(15)","y":2008,"s":"d"},{"r":"Bab-LW(15)","y":2009,"s":"d"},{"r":"Bab-LW(15)","y":2010,"s":"d"},{"r":"Bab-LW(15)","y":2011,"s":"d"},{"r":"Bab-LW(15)","y":2012,"s":"d"},{"r":"Bab-LW(15)","y":2013,"s":"d"},{"r":"Bab-LW(15)","y":2014,"s":"d"},{"r":"Bab-LW(15)","y":2015,"s":"l"},{"r":"Bab-LW(15)","y":2016,"s":"l"},{"r":"Bab-LW(15)","y":2017,"s":"l"},{"r":"Bab-LW(15)","y":2018,"s":"l"},{"r":"Bab-LW(15)","y":2019,"s":"l"},
{"r":"Bab-MW(3)","y":1960,"s":"d"},{"r":"Bab-MW(3)","y":1961,"s":"d"},{"r":"Bab-MW(3)","y":1962,"s":"d"},{"r":"Bab-MW(3)","y":1963,"s":"d"},{"r":"Bab-MW(3)","y":1964,"s":"d"},{"r":"Bab-MW(3)","y":1965,"s":"d"},{"r":"Bab-MW(3)","y":1966,"s":"d"},{"r":"Bab-MW(3)","y":1967,"s":"d"},{"r":"Bab-MW(3)","y":1968,"s":"d"},{"r":"Bab-MW(3)","y":1969,"s":"d"},{"r":"Bab-MW(3)","y":1970,"s":"d"},{"r":"Bab-MW(3)","y":1971,"s":"d"},{"r":"Bab-MW(3)","y":1972,"s":"d"},{"r":"Bab-MW(3)","y":1973,"s":"d"},{"r":"Bab-MW(3)","y":1974,"s":"d"},{"r":"Bab-MW(3)","y":1975,"s":"d"},{"r":"Bab-MW(3)","y":1976,"s":"d"},{"r":"Bab-MW(3)","y":1977,"s":"d"},{"r":"Bab-MW(3)","y":1978,"s":"d"},{"r":"Bab-MW(3)","y":1979,"s":"d"},{"r":"Bab-MW(3)","y":1980,"s":"d"},{"r":"Bab-MW(3)","y":1981,"s":"d"},{"r":"Bab-MW(3)","y":1982,"s":"d"},{"r":"Bab-MW(3)","y":1983,"s":"d"},{"r":"Bab-MW(3)","y":1984,"s":"d"},{"r":"Bab-MW(3)","y":1985,"s":"d"},{"r":"Bab-MW(3)","y":1986,"s":"d"},{"r":"Bab-MW(3)","y":1987,"s":"d"},{"r":"Bab-MW(3)","y":1988,"s":"d"},{"r":"Bab-MW(3)","y":1989,"s":"d"},{"r":"Bab-MW(3)","y":1990,"s":"d"},{"r":"Bab-MW(3)","y":1991,"s":"d"},{"r":"Bab-MW(3)","y":1992,"s":"d"},{"r":"Bab-MW(3)","y":1993,"s":"d"},{"r":"Bab-MW(3)","y":1994,"s":"d"},{"r":"Bab-MW(3)","y":1995,"s":"d"},{"r":"Bab-MW(3)","y":1996,"s":"d"},{"r":"Bab-MW(3)","y":1997,"s":"d"},{"r":"Bab-MW(3)","y":1998,"s":"d"},{"r":"Bab-MW(3)","y":1999,"s":"d"},{"r":"Bab-MW(3)","y":2000,"s":"d"},{"r":"Bab-MW(3)","y":2001,"s":"d"},{"r":"Bab-MW(3)","y":2002,"s":"d"},{"r":"Bab-MW(3)","y":2003,"s":"d"},{"r":"Bab-MW(3)","y":2004,"s":"d"},{"r":"Bab-MW(3)","y":2005,"s":"d"},{"r":"Bab-MW(3)","y":2006,"s":"d"},{"r":"Bab-MW(3)","y":2007,"s":"d"},{"r":"Bab-MW(3)","y":2008,"s":"d"},{"r":"Bab-MW(3)","y":2009,"s":"d"},{"r":"Bab-MW(3)","y":2010,"s":"d"},{"r":"Bab-MW(3)","y":2011,"s":"d"},{"r":"Bab-MW(3)","y":2012,"s":"d"},{"r":"Bab-MW(3)","y":2013,"s":"d"},{"r":"Bab-MW(3)","y":2014,"s":"d"},{"r":"Bab-MW(3)","y":2015,"s":"l"},{"r":"Bab-MW(3)","y":2016,"s":"l"},{"r":"Bab-MW(3)","y":2017,"s":"l"},{"r":"Bab-MW(3)","y":2018,"s":"l"},{"r":"Bab-MW(3)","y":2019,"s":"l"},
{"r":"Pinkut(11)","y":1960,"s":"d"},{"r":"Pinkut(11)","y":1961,"s":"d"},{"r":"Pinkut(11)","y":1962,"s":"d"},{"r":"Pinkut(11)","y":1963,"s":"d"},{"r":"Pinkut(11)","y":1964,"s":"d"},{"r":"Pinkut(11)","y":1965,"s":"d"},{"r":"Pinkut(11)","y":1966,"s":"d"},{"r":"Pinkut(11)","y":1967,"s":"d"},{"r":"Pinkut(11)","y":1968,"s":"d"},{"r":"Pinkut(11)","y":1969,"s":"d"},{"r":"Pinkut(11)","y":1970,"s":"d"},{"r":"Pinkut(11)","y":1971,"s":"d"},{"r":"Pinkut(11)","y":1972,"s":"d"},{"r":"Pinkut(11)","y":1973,"s":"d"},{"r":"Pinkut(11)","y":1974,"s":"d"},{"r":"Pinkut(11)","y":1975,"s":"d"},{"r":"Pinkut(11)","y":1976,"s":"d"},{"r":"Pinkut(11)","y":1977,"s":"d"},{"r":"Pinkut(11)","y":1978,"s":"d"},{"r":"Pinkut(11)","y":1979,"s":"d"},{"r":"Pinkut(11)","y":1980,"s":"d"},{"r":"Pinkut(11)","y":1981,"s":"d"},{"r":"Pinkut(11)","y":1982,"s":"d"},{"r":"Pinkut(11)","y":1983,"s":"d"},{"r":"Pinkut(11)","y":1984,"s":"d"},{"r":"Pinkut(11)","y":1985,"s":"d"},{"r":"Pinkut(11)","y":1986,"s":"d"},{"r":"Pinkut(11)","y":1987,"s":"d"},{"r":"Pinkut(11)","y":1988,"s":"d"},{"r":"Pinkut(11)","y":1989,"s":"d"},{"r":"Pinkut(11)","y":1990,"s":"d"},{"r":"Pinkut(11)","y":1991,"s":"d"},{"r":"Pinkut(11)","y":1992,"s":"d"},{"r":"Pinkut(11)","y":1993,"s":"d"},{"r":"Pinkut(11)","y":1994,"s":"d"},{"r":"Pinkut(11)","y":1995,"s":"d"},{"r":"Pinkut(11)","y":1996,"s":"d"},{"r":"Pinkut(11)","y":1997,"s":"d"},{"r":"Pinkut(11)","y":1998,"s":"d"},{"r":"Pinkut(11)","y":1999,"s":"d"},{"r":"Pinkut(11)","y":2000,"s":"d"},{"r":"Pinkut(11)","y":2001,"s":"d"},{"r":"Pinkut(11)","y":2002,"s":"d"},{"r":"Pinkut(11)","y":2003,"s":"d"},{"r":"Pinkut(11)","y":2004,"s":"d"},{"r":"Pinkut(11)","y":2005,"s":"d"},{"r":"Pinkut(11)","y":2006,"s":"d"},{"r":"Pinkut(11)","y":2007,"s":"d"},{"r":"Pinkut(11)","y":2008,"s":"d"},{"r":"Pinkut(11)","y":2009,"s":"d"},{"r":"Pinkut(11)","y":2010,"s":"d"},{"r":"Pinkut(11)","y":2011,"s":"d"},{"r":"Pinkut(11)","y":2012,"s":"d"},{"r":"Pinkut(11)","y":2013,"s":"d"},{"r":"Pinkut(11)","y":2014,"s":"d"},{"r":"Pinkut(11)","y":2015,"s":"l"},{"r":"Pinkut(11)","y":2016,"s":"l"},{"r":"Pinkut(11)","y":2017,"s":"l"},{"r":"Pinkut(11)","y":2018,"s":"l"},{"r":"Pinkut(11)","y":2019,"s":"l"},
{"r":"Fulton(37)","y":1960,"s":"d"},{"r":"Fulton(37)","y":1961,"s":"d"},{"r":"Fulton(37)","y":1962,"s":"d"},{"r":"Fulton(37)","y":1963,"s":"d"},{"r":"Fulton(37)","y":1964,"s":"d"},{"r":"Fulton(37)","y":1965,"s":"d"},{"r":"Fulton(37)","y":1966,"s":"d"},{"r":"Fulton(37)","y":1967,"s":"d"},{"r":"Fulton(37)","y":1968,"s":"d"},{"r":"Fulton(37)","y":1969,"s":"d"},{"r":"Fulton(37)","y":1970,"s":"d"},{"r":"Fulton(37)","y":1971,"s":"d"},{"r":"Fulton(37)","y":1972,"s":"d"},{"r":"Fulton(37)","y":1973,"s":"d"},{"r":"Fulton(37)","y":1974,"s":"d"},{"r":"Fulton(37)","y":1975,"s":"d"},{"r":"Fulton(37)","y":1976,"s":"d"},{"r":"Fulton(37)","y":1977,"s":"d"},{"r":"Fulton(37)","y":1978,"s":"d"},{"r":"Fulton(37)","y":1979,"s":"d"},{"r":"Fulton(37)","y":1980,"s":"d"},{"r":"Fulton(37)","y":1981,"s":"d"},{"r":"Fulton(37)","y":1982,"s":"d"},{"r":"Fulton(37)","y":1983,"s":"d"},{"r":"Fulton(37)","y":1984,"s":"d"},{"r":"Fulton(37)","y":1985,"s":"d"},{"r":"Fulton(37)","y":1986,"s":"d"},{"r":"Fulton(37)","y":1987,"s":"d"},{"r":"Fulton(37)","y":1988,"s":"d"},{"r":"Fulton(37)","y":1989,"s":"d"},{"r":"Fulton(37)","y":1990,"s":"d"},{"r":"Fulton(37)","y":1991,"s":"d"},{"r":"Fulton(37)","y":1992,"s":"d"},{"r":"Fulton(37)","y":1993,"s":"d"},{"r":"Fulton(37)","y":1994,"s":"d"},{"r":"Fulton(37)","y":1995,"s":"d"},{"r":"Fulton(37)","y":1996,"s":"d"},{"r":"Fulton(37)","y":1997,"s":"d"},{"r":"Fulton(37)","y":1998,"s":"d"},{"r":"Fulton(37)","y":1999,"s":"d"},{"r":"Fulton(37)","y":2000,"s":"d"},{"r":"Fulton(37)","y":2001,"s":"d"},{"r":"Fulton(37)","y":2002,"s":"d"},{"r":"Fulton(37)","y":2003,"s":"d"},{"r":"Fulton(37)","y":2004,"s":"d"},{"r":"Fulton(37)","y":2005,"s":"d"},{"r":"Fulton(37)","y":2006,"s":"d"},{"r":"Fulton(37)","y":2007,"s":"d"},{"r":"Fulton(37)","y":2008,"s":"d"},{"r":"Fulton(37)","y":2009,"s":"d"},{"r":"Fulton(37)","y":2010,"s":"d"},{"r":"Fulton(37)","y":2011,"s":"d"},{"r":"Fulton(37)","y":2012,"s":"d"},{"r":"Fulton(37)","y":2013,"s":"d"},{"r":"Fulton(37)","y":2014,"s":"d"},{"r":"Fulton(37)","y":2015,"s":"l"},{"r":"Fulton(37)","y":2016,"s":"l"},{"r":"Fulton(37)","y":2017,"s":"l"},{"r":"Fulton(37)","y":2018,"s":"l"},{"r":"Fulton(37)","y":2019,"s":"l"},
{"r":"Slamg(<1)","y":2000,"s":"d"},{"r":"Slamg(<1)","y":2001,"s":"d"},{"r":"Slamg(<1)","y":2002,"s":"d"},{"r":"Slamg(<1)","y":2003,"s":"d"},{"r":"Slamg(<1)","y":2004,"s":"d"},{"r":"Slamg(<1)","y":2005,"s":"d"},{"r":"Slamg(<1)","y":2006,"s":"d"},{"r":"Slamg(<1)","y":2007,"s":"d"},{"r":"Slamg(<1)","y":2008,"s":"d"},{"r":"Slamg(<1)","y":2009,"s":"d"},{"r":"Slamg(<1)","y":2010,"s":"d"},{"r":"Slamg(<1)","y":2011,"s":"d"},{"r":"Slamg(<1)","y":2012,"s":"d"},{"r":"Slamg(<1)","y":2013,"s":"d"},{"r":"Slamg(<1)","y":2014,"s":"l"},{"r":"Slamg(<1)","y":2015,"s":"l"},{"r":"Slamg(<1)","y":2016,"s":"l"},{"r":"Slamg(<1)","y":2017,"s":"l"},{"r":"Slamg(<1)","y":2018,"s":"l"},
{"r":"Motase(<1)","y":1970,"s":"d"},{"r":"Motase(<1)","y":1971,"s":"o"},{"r":"Motase(<1)","y":1972,"s":"l"},{"r":"Motase(<1)","y":1973,"s":"l"},{"r":"Motase(<1)","y":1974,"s":"o"},{"r":"Motase(<1)","y":1975,"s":"l"},{"r":"Motase(<1)","y":1987,"s":"d"},{"r":"Motase(<1)","y":1988,"s":"d"},{"r":"Motase(<1)","y":1989,"s":"l"},{"r":"Motase(<1)","y":1990,"s":"l"},{"r":"Motase(<1)","y":1991,"s":"l"},{"r":"Motase(<1)","y":1992,"s":"l"},{"r":"Motase(<1)","y":1993,"s":"d"},{"r":"Motase(<1)","y":1996,"s":"d"},{"r":"Motase(<1)","y":1997,"s":"d"},{"r":"Motase(<1)","y":1998,"s":"d"},{"r":"Motase(<1)","y":1999,"s":"d"},{"r":"Motase(<1)","y":2000,"s":"d"},{"r":"Motase(<1)","y":2001,"s":"d"},{"r":"Motase(<1)","y":2002,"s":"d"},{"r":"Motase(<1)","y":2003,"s":"d"},{"r":"Motase(<1)","y":2004,"s":"d"},{"r":"Motase(<1)","y":2005,"s":"d"},{"r":"Motase(<1)","y":2006,"s":"d"},{"r":"Motase(<1)","y":2007,"s":"l"},{"r":"Motase(<1)","y":2008,"s":"l"},{"r":"Motase(<1)","y":2009,"s":"l"},{"r":"Motase(<1)","y":2010,"s":"l"},{"r":"Motase(<1)","y":2011,"s":"d"},{"r":"Motase(<1)","y":2014,"s":"d"},{"r":"Motase(<1)","y":2015,"s":"l"},{"r":"Motase(<1)","y":2016,"s":"l"},{"r":"Motase(<1)","y":2017,"s":"l"},{"r":"Motase(<1)","y":2018,"s":"l"},{"r":"Motase(<1)","y":2019,"s":"l"},
{"r":"Bear(1)","y":1960,"s":"d"},{"r":"Bear(1)","y":1961,"s":"d"},{"r":"Bear(1)","y":1962,"s":"d"},{"r":"Bear(1)","y":1963,"s":"d"},{"r":"Bear(1)","y":1964,"s":"d"},{"r":"Bear(1)","y":1965,"s":"d"},{"r":"Bear(1)","y":1966,"s":"d"},{"r":"Bear(1)","y":1967,"s":"d"},{"r":"Bear(1)","y":1968,"s":"d"},{"r":"Bear(1)","y":1969,"s":"r"},{"r":"Bear(1)","y":1970,"s":"d"},{"r":"Bear(1)","y":1971,"s":"d"},{"r":"Bear(1)","y":1972,"s":"d"},{"r":"Bear(1)","y":1973,"s":"d"},{"r":"Bear(1)","y":1974,"s":"r"},{"r":"Bear(1)","y":1975,"s":"d"},{"r":"Bear(1)","y":1976,"s":"d"},{"r":"Bear(1)","y":1977,"s":"o"},{"r":"Bear(1)","y":1978,"s":"l"},{"r":"Bear(1)","y":1979,"s":"l"},{"r":"Bear(1)","y":1980,"s":"l"},{"r":"Bear(1)","y":1981,"s":"d"},{"r":"Bear(1)","y":1984,"s":"d"},{"r":"Bear(1)","y":1985,"s":"d"},{"r":"Bear(1)","y":1986,"s":"d"},{"r":"Bear(1)","y":1987,"s":"d"},{"r":"Bear(1)","y":1988,"s":"d"},{"r":"Bear(1)","y":1989,"s":"d"},{"r":"Bear(1)","y":1990,"s":"d"},{"r":"Bear(1)","y":1991,"s":"d"},{"r":"Bear(1)","y":1992,"s":"d"},{"r":"Bear(1)","y":1993,"s":"d"},{"r":"Bear(1)","y":1994,"s":"r"},{"r":"Bear(1)","y":1995,"s":"d"},{"r":"Bear(1)","y":1996,"s":"d"},{"r":"Bear(1)","y":1997,"s":"d"},{"r":"Bear(1)","y":1998,"s":"d"},{"r":"Bear(1)","y":1999,"s":"d"},{"r":"Bear(1)","y":2000,"s":"d"},{"r":"Bear(1)","y":2001,"s":"d"},{"r":"Bear(1)","y":2002,"s":"d"},{"r":"Bear(1)","y":2003,"s":"d"},{"r":"Bear(1)","y":2004,"s":"d"},{"r":"Bear(1)","y":2005,"s":"d"},{"r":"Bear(1)","y":2006,"s":"d"},{"r":"Bear(1)","y":2007,"s":"d"},{"r":"Bear(1)","y":2008,"s":"d"},{"r":"Bear(1)","y":2009,"s":"d"},{"r":"Bear(1)","y":2010,"s":"d"},{"r":"Bear(1)","y":2011,"s":"d"},{"r":"Bear(1)","y":2012,"s":"d"},{"r":"Bear(1)","y":2013,"s":"d"},{"r":"Bear(1)","y":2014,"s":"d"},{"r":"Bear(1)","y":2015,"s":"l"},{"r":"Bear(1)","y":2016,"s":"l"},{"r":"Bear(1)","y":2017,"s":"l"},{"r":"Bear(1)","y":2018,"s":"l"},{"r":"Bear(1)","y":2019,"s":"l"},
{"r":"Asitka(<1)","y":1961,"s":"d"},{"r":"Asitka(<1)","y":1964,"s":"d"},{"r":"Asitka(<1)","y":1965,"s":"r"},{"r":"Asitka(<1)","y":1966,"s":"d"},{"r":"Asitka(<1)","y":1967,"s":"r"},{"r":"Asitka(<1)","y":1968,"s":"d"},{"r":"Asitka(<1)","y":1969,"s":"r"},{"r":"Asitka(<1)","y":1970,"s":"l"},{"r":"Asitka(<1)","y":1971,"s":"o"},{"r":"Asitka(<1)","y":1972,"s":"l"},{"r":"Asitka(<1)","y":1973,"s":"l"},{"r":"Asitka(<1)","y":1974,"s":"l"},{"r":"Asitka(<1)","y":1978,"s":"l"},{"r":"Asitka(<1)","y":1979,"s":"l"},{"r":"Asitka(<1)","y":1980,"s":"l"},{"r":"Asitka(<1)","y":1987,"s":"d"},{"r":"Asitka(<1)","y":1990,"s":"l"},{"r":"Asitka(<1)","y":1991,"s":"o"},{"r":"Asitka(<1)","y":1992,"s":"l"},{"r":"Asitka(<1)","y":1993,"s":"l"},{"r":"Asitka(<1)","y":1999,"s":"d"},{"r":"Asitka(<1)","y":2000,"s":"d"},{"r":"Asitka(<1)","y":2001,"s":"d"},{"r":"Asitka(<1)","y":2002,"s":"r"},{"r":"Asitka(<1)","y":2003,"s":"d"},{"r":"Asitka(<1)","y":2004,"s":"r"},{"r":"Asitka(<1)","y":2005,"s":"d"},{"r":"Asitka(<1)","y":2006,"s":"d"},{"r":"Asitka(<1)","y":2007,"s":"d"},{"r":"Asitka(<1)","y":2008,"s":"d"},{"r":"Asitka(<1)","y":2009,"s":"d"},{"r":"Asitka(<1)","y":2010,"s":"d"},{"r":"Asitka(<1)","y":2011,"s":"d"},{"r":"Asitka(<1)","y":2012,"s":"d"},{"r":"Asitka(<1)","y":2013,"s":"d"},{"r":"Asitka(<1)","y":2014,"s":"d"},{"r":"Asitka(<1)","y":2015,"s":"l"},{"r":"Asitka(<1)","y":2016,"s":"l"},{"r":"Asitka(<1)","y":2017,"s":"l"},{"r":"Asitka(<1)","y":2018,"s":"l"},{"r":"Asitka(<1)","y":2019,"s":"l"},
{"r":"Sustut(<1)","y":1960,"s":"d"},{"r":"Sustut(<1)","y":1961,"s":"d"},{"r":"Sustut(<1)","y":1962,"s":"d"},{"r":"Sustut(<1)","y":1963,"s":"d"},{"r":"Sustut(<1)","y":1964,"s":"d"},{"r":"Sustut(<1)","y":1965,"s":"d"},{"r":"Sustut(<1)","y":1966,"s":"d"},{"r":"Sustut(<1)","y":1967,"s":"d"},{"r":"Sustut(<1)","y":1968,"s":"d"},{"r":"Sustut(<1)","y":1969,"s":"l"},{"r":"Sustut(<1)","y":1970,"s":"l"},{"r":"Sustut(<1)","y":1971,"s":"l"},{"r":"Sustut(<1)","y":1972,"s":"l"},{"r":"Sustut(<1)","y":1973,"s":"d"},{"r":"Sustut(<1)","y":1974,"s":"d"},{"r":"Sustut(<1)","y":1975,"s":"x"},{"r":"Sustut(<1)","y":1977,"s":"l"},{"r":"Sustut(<1)","y":1978,"s":"l"},{"r":"Sustut(<1)","y":1979,"s":"l"},{"r":"Sustut(<1)","y":1980,"s":"l"},{"r":"Sustut(<1)","y":1981,"s":"l"},{"r":"Sustut(<1)","y":1987,"s":"d"},{"r":"Sustut(<1)","y":1988,"s":"d"},{"r":"Sustut(<1)","y":1989,"s":"r"},{"r":"Sustut(<1)","y":1990,"s":"l"},{"r":"Sustut(<1)","y":1991,"s":"o"},{"r":"Sustut(<1)","y":1992,"s":"l"},{"r":"Sustut(<1)","y":1993,"s":"l"},{"r":"Sustut(<1)","y":1994,"s":"l"},{"r":"Sustut(<1)","y":1995,"s":"l"},{"r":"Sustut(<1)","y":2001,"s":"d"},{"r":"Sustut(<1)","y":2002,"s":"d"},{"r":"Sustut(<1)","y":2003,"s":"d"},{"r":"Sustut(<1)","y":2004,"s":"d"},{"r":"Sustut(<1)","y":2005,"s":"d"},{"r":"Sustut(<1)","y":2006,"s":"d"},{"r":"Sustut(<1)","y":2007,"s":"d"},{"r":"Sustut(<1)","y":2008,"s":"d"},{"r":"Sustut(<1)","y":2009,"s":"d"},{"r":"Sustut(<1)","y":2010,"s":"d"},{"r":"Sustut(<1)","y":2011,"s":"d"},{"r":"Sustut(<1)","y":2012,"s":"d"},{"r":"Sustut(<1)","y":2013,"s":"d"},{"r":"Sustut(<1)","y":2014,"s":"l"},{"r":"Sustut(<1)","y":2015,"s":"l"},{"r":"Sustut(<1)","y":2016,"s":"l"},{"r":"Sustut(<1)","y":2017,"s":"l"},{"r":"Sustut(<1)","y":2018,"s":"l"},{"r":"Sustut(<1)","y":2019,"s":"l"}
]},
"encoding":{
"y":{"field":"r","type":"nominal","sort":null,
"scale":{"type":"point","padding":0.0714,"domain":["_a","_b","LNassSRT(2)","_c","_d","Meziadin(15)","Bowser(-)","Oweege(-)","Kwinag(<1)","Damdoch(<1)","_e","_f","UNassRT(<1)","_g","_h","Johnston(<1)","Ecstall(-)","Alastair(2)","Lakelse(1)","Kitsumk(2)","Mcdonell(<1)","_i","_j","Kitwanga(<1)","UBulkLk(-)","Morice(2)","SwanSteph(1)","Bab-EW(4)","Bab-LW(15)","Bab-MW(3)","Pinkut(11)","Fulton(37)","_k","_l","Sicintine(-)","Slamg(<1)","Motase(<1)","Bear(1)","Asitka(<1)","Sustut(<1)","Kluant(-)","Kluayaz(-)","_m","_n","Skeena RT(<1)"]},
"axis":{"title":null,"orient":"left","offset":107,"domain":false,"grid":false,"ticks":true,"tickSize":13,"tickColor":"#6e6e6e","tickWidth":1,"labelFontSize":19.5,"labelFont":"Liberation Sans","labelColor":"#000000","labelPadding":14,
"values":["LNassSRT(2)","Meziadin(15)","Bowser(-)","Oweege(-)","Kwinag(<1)","Damdoch(<1)","UNassRT(<1)","Johnston(<1)","Ecstall(-)","Alastair(2)","Lakelse(1)","Kitsumk(2)","Mcdonell(<1)","Kitwanga(<1)","UBulkLk(-)","Morice(2)","SwanSteph(1)","Bab-EW(4)","Bab-LW(15)","Bab-MW(3)","Pinkut(11)","Fulton(37)","Sicintine(-)","Slamg(<1)","Motase(<1)","Bear(1)","Asitka(<1)","Sustut(<1)","Kluant(-)","Kluayaz(-)","Skeena RT(<1)"]}}
},
"layer":[
{"data":{"name":"rows"},"mark":{"type":"rule","color":"#d0d0d0","strokeWidth":1.3},
 "encoding":{"x":{"datum":1951.3,"type":"quantitative"},"x2":{"datum":2023}}},
{"data":{"name":"groups"},"mark":{"type":"rule","color":"#6e6e6e","strokeWidth":1},
 "encoding":{"x":{"datum":1951.3,"type":"quantitative"},"y2":{"field":"r2"}}},
{"data":{"name":"pts"},"transform":[{"filter":{"field":"s","oneOf":["d","l"]}}],
 "mark":{"type":"point","shape":"circle","filled":true,"opacity":1,"size":100,"strokeWidth":1},
 "encoding":{
  "x":{"field":"y","type":"quantitative","scale":{"domain":[1960,2020],"nice":false,"zero":false},
   "axis":{"title":null,"orient":"top","values":[1960,1970,1980,1990,2000,2010,2020],"format":"d","grid":false,"domain":true,"domainColor":"#6e6e6e","domainWidth":1,"tickSize":15,"tickColor":"#6e6e6e","tickWidth":1,"labelFontSize":24,"labelFont":"Liberation Sans","labelColor":"#000000","labelPadding":15,"labelFlush":false}},
  "fill":{"field":"s","type":"nominal","scale":{"domain":["d","l","r","o"],"range":["#000080","#add8e6","#ff0000","#ffa500"]},"legend":null},
  "stroke":{"field":"s","type":"nominal","scale":{"domain":["d","l","r","o"],"range":["#000080","#6f7fc6","#ff0000","#e8890c"]},"legend":null}}},
{"data":{"name":"pts"},"transform":[{"filter":{"field":"s","oneOf":["r","o"]}}],
 "mark":{"type":"point","shape":"diamond","filled":true,"opacity":1,"size":200,"strokeWidth":1},
 "encoding":{
  "x":{"field":"y","type":"quantitative"},
  "fill":{"field":"s","type":"nominal","legend":null},
  "stroke":{"field":"s","type":"nominal","legend":null}}},
{"data":{"name":"pts"},"transform":[{"filter":{"field":"s","equal":"x"}}],
 "mark":{"type":"point","shape":"M-1,-1L1,1M-1,1L1,-1","filled":false,"opacity":1,"size":160,"stroke":"#ff0000","strokeWidth":2.5},
 "encoding":{"x":{"field":"y","type":"quantitative"}}},
{"data":{"name":"heads"},"mark":{"type":"text","align":"left","baseline":"middle","dx":-253,"dy":15,"fontSize":24.7,"fontWeight":"bold","font":"Liberation Sans","color":"#000000"},
 "encoding":{"x":{"datum":1960,"type":"quantitative"},"text":{"field":"t"}}}
]
}
